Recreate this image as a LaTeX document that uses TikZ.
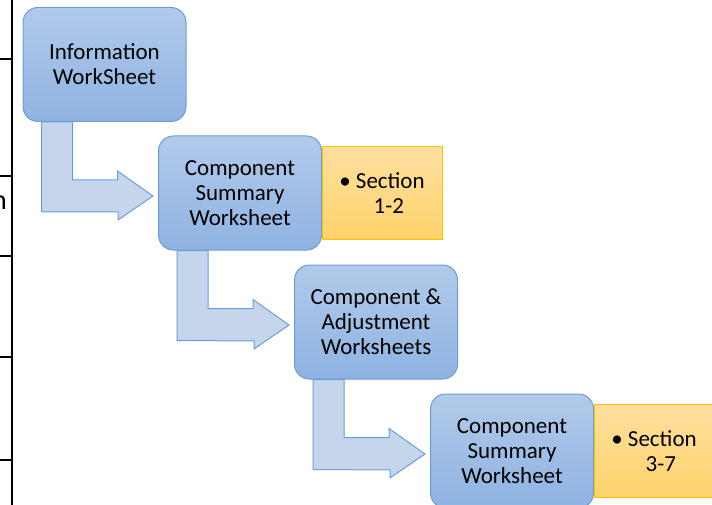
\documentclass[tikz,border=0pt]{standalone}
\usepackage{fontspec}
\setmainfont{Carlito}
\usetikzlibrary{positioning,backgrounds,calc}
\definecolor{boxline}{HTML}{6A9ED8}
\definecolor{boxtop}{HTML}{B1CAEA}
\definecolor{boxbot}{HTML}{8FB3E2}
\definecolor{arrowfill}{HTML}{C5D5EB}
\definecolor{secline}{HTML}{FFC000}
\definecolor{sectop}{HTML}{FFDFA0}
\definecolor{secbot}{HTML}{FFD36B}
\tikzstyle{block} = [draw=boxline, line width=1pt, rounded corners=15pt, top color=boxtop, bottom color=boxbot, minimum width=163pt, minimum height=114pt, align=center, font=\fontsize{23}{25}\selectfont]
\tikzstyle{sectbox} = [draw=secline, line width=1pt, top color=sectop, bottom color=secbot, minimum width=120pt, minimum height=93pt, align=center, font=\fontsize{23}{25}\selectfont]
\tikzstyle{bendarrow} = [draw=boxline, line width=1pt, fill=arrowfill]
\tikzstyle{tablerule} = [line width=1.5pt]

\begin{document}
\begin{tikzpicture}[x=1pt, y=-1pt, node distance=3cm]
\useasboundingbox (0,0) rectangle (712,505);

% table edge on the left
\draw [tablerule] (12,0) -- (12,505);
\foreach \y in {59,176,256,357,460}
  \draw [tablerule] (0,\y) -- (12,\y);
\node [anchor=base east, inner sep=0pt, font=\fontsize{28}{30}\selectfont] (cut) at (7,210) {n};

\node [block] (info) at (104.5,64.5) {Information\\WorkSheet};
\node [block, below of=info, node distance=128.5pt, xshift=135.5pt] (summ) {Component\\Summary\\Worksheet};
\node [sectbox, right of=summ, node distance=142pt] (sec12) {\textbullet\ Section\\\hspace{0.6em}1-2};
\node [block, below of=summ, node distance=129pt, xshift=136pt] (adjust) {Component \&\\Adjustment\\Worksheets};
\node [block, below of=adjust, node distance=129pt, xshift=136pt] (final) {Component\\Summary\\Worksheet};
\node [sectbox, right of=final, node distance=142pt] (sec37) {\textbullet\ Section\\\hspace{0.6em}3-7};

% bent arrows
\begin{scope}[on background layer]
\foreach \a/\b in {info/summ, summ/adjust, adjust/final}
  \draw [bendarrow] ($(\a.south west)+(19,0)$) -- ++(31,0) -- ++(0,58) -- ++(45,0) -- ++(0,-9)
    -- ($(\b.west)+(-5,3)$) -- ++(-35,24) -- ++(0,-8) -- ($(\a.south west)+(19,90)$) -- cycle;
\end{scope}

\end{tikzpicture}
\end{document}
